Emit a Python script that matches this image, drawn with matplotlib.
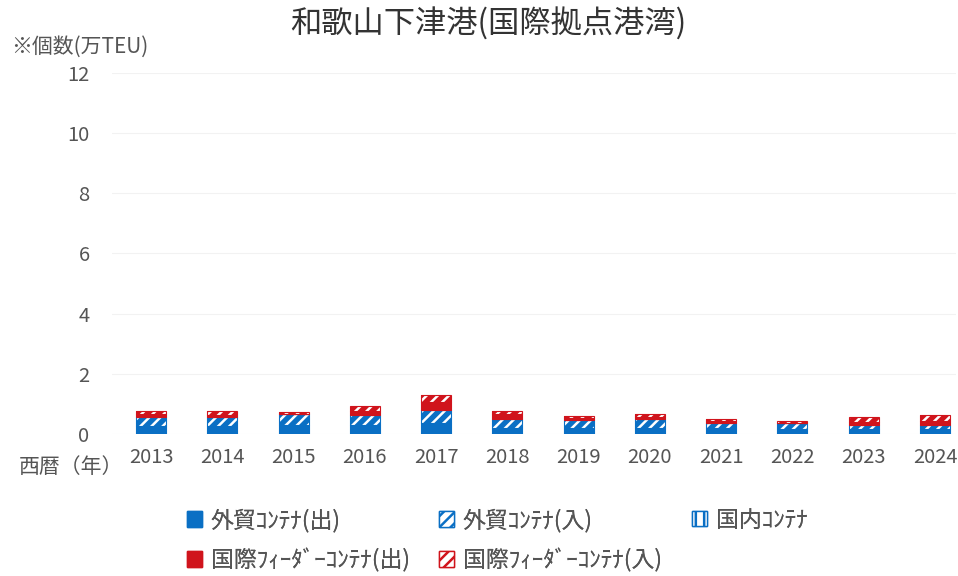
import matplotlib
matplotlib.use("Agg")
import matplotlib.pyplot as plt
from matplotlib.patches import Patch
import numpy as np

plt.rcParams['font.family'] = ['Noto Sans CJK JP', 'DejaVu Sans']
plt.rcParams['hatch.linewidth'] = 1.8

years = ['2013', '2014', '2015', '2016', '2017', '2018', '2019', '2020', '2021', '2022', '2023', '2024']
trade_out = [0.25, 0.25, 0.30, 0.30, 0.37, 0.20, 0.20, 0.20, 0.20, 0.18, 0.17, 0.17]
trade_in = [0.33, 0.33, 0.38, 0.33, 0.43, 0.30, 0.25, 0.30, 0.17, 0.17, 0.13, 0.13]
domestic = [0.0, 0.0, 0.0, 0.0, 0.0, 0.0, 0.0, 0.0, 0.0, 0.0, 0.0, 0.0]
feeder_out = [0.07, 0.05, 0.0, 0.13, 0.27, 0.17, 0.08, 0.07, 0.05, 0.03, 0.10, 0.13]
feeder_in = [0.13, 0.13, 0.05, 0.17, 0.23, 0.10, 0.07, 0.10, 0.08, 0.05, 0.17, 0.20]
yticks = [0, 2, 4, 6, 8, 10, 12]
labels = ['外貿ｺﾝﾃﾅ(出)', '外貿ｺﾝﾃﾅ(入)', '国内ｺﾝﾃﾅ', '国際ﾌｨｰﾀﾞｰｺﾝﾃﾅ(出)', '国際ﾌｨｰﾀﾞｰｺﾝﾃﾅ(入)']

BLUE = '#0a6fc4'
RED = '#d0141c'
TXT = '#555555'

fig = plt.figure(figsize=(9.58, 5.76), dpi=100)
ax = fig.add_axes([0.1167, 0.2465, 0.8816, 0.6268])

x = np.arange(len(years))
w = 0.42
bottom = np.zeros(len(years))

series = [
    (trade_out, BLUE, None, BLUE),
    (trade_in, BLUE, '///', 'white'),
    (domestic, 'white', '||', BLUE),
    (feeder_out, RED, None, RED),
    (feeder_in, RED, '///', 'white'),
]
for vals, fc, hatch, ec in series:
    v = np.array(vals)
    ax.bar(x, v, w, bottom=bottom, color=fc, hatch=hatch, edgecolor=ec, linewidth=0)
    ax.bar(x, v, w, bottom=bottom, fill=False, edgecolor=fc if fc != 'white' else BLUE, linewidth=0.8)
    bottom += v

ax.set_ylim(0, 12)
ax.set_xlim(-0.55, 11.3)
ax.set_yticks(yticks)
ax.set_yticklabels([str(t) for t in yticks])
ax.set_xticks(x)
ax.set_xticklabels(years)
ax.tick_params(axis='both', length=0, labelsize=14.5, colors=TXT)
ax.tick_params(axis='y', pad=16)
ax.tick_params(axis='x', pad=9)
for s in ax.spines.values():
    s.set_visible(False)
ax.grid(axis='y', color='#f2f2f2', linewidth=0.8)
ax.set_axisbelow(True)

fig.text(0.51, 0.958, '和歌山下津港(国際拠点港湾)', ha='center', va='center', fontsize=22.5, color='#333333')
fig.text(0.012, 0.918, '※個数(万TEU)', ha='left', va='center', fontsize=15, color=TXT)
fig.text(0.02, 0.19, '西暦（年）', ha='left', va='center', fontsize=15, color=TXT)

handles = [
    Patch(facecolor=BLUE, edgecolor=BLUE, label=labels[0]),
    Patch(facecolor='white', edgecolor=BLUE, hatch='///', label=labels[1]),
    Patch(facecolor='white', edgecolor=BLUE, hatch='||', label=labels[2]),
    Patch(facecolor=RED, edgecolor=RED, label=labels[3]),
    Patch(facecolor='white', edgecolor=RED, hatch='///', label=labels[4]),
]
pos = [(0.195, 0.097), (0.458, 0.097), (0.722, 0.097), (0.195, 0.028), (0.458, 0.028)]
for h, (px, py) in zip(handles, pos):
    leg = fig.legend(handles=[h], loc='center left', bbox_to_anchor=(px, py), frameon=False,
                     fontsize=16.5, handlelength=0.65, handleheight=0.65, handletextpad=0.4,
                     borderaxespad=0, borderpad=0, labelcolor=TXT)
    fig.add_artist(leg)

fig.savefig('out.png', dpi=100, facecolor='white')
